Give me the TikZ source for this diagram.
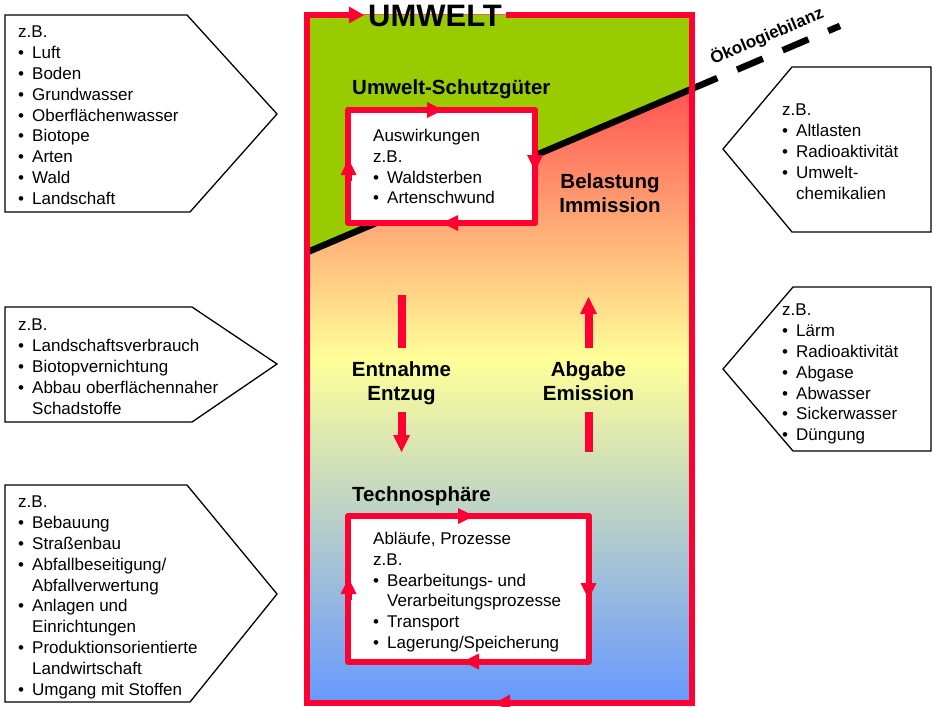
\documentclass[tikz,border=0pt]{standalone}
\usepackage{fontspec}
\setmainfont{Liberation Sans}
\usetikzlibrary{arrows.meta}

\definecolor{umred}{HTML}{FF0033}
\definecolor{umgreen}{HTML}{99CC00}
\definecolor{umtop}{HTML}{FF5050}
\definecolor{ummid}{HTML}{FFFF99}
\definecolor{umbot}{HTML}{6699FF}

\pgfdeclareverticalshading{umshade}{100bp}{color(0bp)=(umbot); color(25bp)=(umbot); color(50bp)=(ummid); color(70bp)=(umtop); color(100bp)=(umtop)}

\newcommand{\bul}{\makebox[14pt][l]{\textbullet}}
\newcommand{\ein}{\hspace*{14pt}}

\tikzset{
  tagbox/.style={draw=black, line width=1.3pt, fill=white},
  taglist/.style={anchor=north west, inner sep=0pt, align=left, font=\fontsize{17}{20.8}\selectfont},
  headline/.style={inner sep=0pt, font=\fontsize{20.5}{24}\selectfont\bfseries},
  ringline/.style={draw=umred, line width=6pt, line join=round},
  ringtip/.style={draw=umred, line width=6pt, -{Triangle[length=16pt,width=16pt,line width=0pt]}},
  frametip/.style={draw=umred, line width=6pt, -{Triangle[length=15pt,width=17pt,line width=0pt]}},
  flowbar/.style={draw=umred, line width=8pt},
  flowtip/.style={-{Triangle[length=17pt,width=17pt,line width=0pt]}},
  ecoline/.style={draw=black, line width=6.5pt}
}

\begin{document}
\begin{tikzpicture}[x=1pt,y=-1pt]
\useasboundingbox (0,0) rectangle (933,706);

\coordinate (fTL) at (306.5,15);
\coordinate (fTR) at (691.5,15);
\coordinate (fBR) at (691.5,703);
\coordinate (fBL) at (306.5,703);
\coordinate (eco1) at (306.5,252.5);
\coordinate (eco2) at (691.5,89);
\coordinate (eco3) at (840,25.9);

\fill[shading=umshade] (fTL) rectangle (fBR);
\fill[umgreen] (fTL) -- (fTR) -- (eco2) -- (eco1) -- cycle;
\draw[ecoline] (eco1) -- (eco2);
\draw[ecoline, dash pattern=on 28pt off 21.5pt] (eco2) -- (eco3);
\node[inner sep=0pt, anchor=base, rotate=23, font=\fontsize{17}{20}\selectfont\bfseries] (oekobil) at (769,41) {Ökologiebilanz};

\node[inner xsep=4pt, inner ysep=0pt, anchor=base, font=\fontsize{31}{36}\selectfont\bfseries] (umwelt) at (435,27) {UMWELT};
\draw[frametip] (umwelt.east |- fTR) -- (fTR) -- (fBR) -- (fBL) -- (fTL) -- (umwelt.west |- fTL);
\coordinate (ftip) at (495,703);
\draw[frametip] ([xshift=22pt]ftip) -- (ftip);

\node[headline, anchor=base west] (schutz) at (352,94.3) {Umwelt-Schutzgüter};
\node[fill=white, minimum width=186.5pt, minimum height=113pt, inner sep=0pt] (auswbox) at (441.75,166.5) {};
\draw[ringline] (auswbox.north west) -- (auswbox.north east) -- (auswbox.south east) -- (auswbox.south west) -- cycle;
\coordinate (atip1) at (443,110);
\coordinate (atip2) at (535,171);
\coordinate (atip3) at (442,223);
\coordinate (atip4) at (348.5,159);
\draw[ringtip] ([xshift=-22pt]atip1) -- (atip1);
\draw[ringtip] ([yshift=22pt]atip2) -- (atip2);
\draw[ringtip] ([xshift=22pt]atip3) -- (atip3);
\draw[ringtip] ([yshift=-22pt]atip4) -- (atip4);
\node[taglist] (auswtext) at (373,129) {Auswirkungen\\z.B.\\\bul Waldsterben\\\bul Artenschwund};

\node[headline, anchor=north, align=center] (belast) at (610,173.3) {Belastung\\Immission};

\node[headline, anchor=north, align=center] (entnahme) at (401.5,361.3) {Entnahme\\Entzug};
\node[headline, anchor=north, align=center] (abgabe) at (588.5,361.3) {Abgabe\\Emission};
\coordinate (ent1) at (401.5,295);
\coordinate (ent3) at (401.5,452);
\coordinate (abg1) at (588.5,297);
\coordinate (abg3) at (588.5,452);
\draw[flowbar, shorten >=13.3pt] (ent1) -- (entnahme.north);
\draw[flowbar, flowtip, shorten <=7.4pt] (entnahme.south) -- (ent3);
\draw[flowbar, flowtip, shorten <=13.3pt] (abgabe.north) -- (abg1);
\draw[flowbar, shorten >=11.7pt] (abg3) -- (abgabe.south);

\node[headline, anchor=base west] (techno) at (352,501.3) {Technosphäre};
\node[fill=white, minimum width=240pt, minimum height=145.5pt, inner sep=0pt] (ablaufbox) at (468.5,588.75) {};
\draw[ringline] (ablaufbox.north west) -- (ablaufbox.north east) -- (ablaufbox.south east) -- (ablaufbox.south west) -- cycle;
\coordinate (btip1) at (474,516);
\coordinate (btip2) at (588.5,599);
\coordinate (btip3) at (463,661.5);
\coordinate (btip4) at (348.5,578);
\draw[ringtip] ([xshift=-22pt]btip1) -- (btip1);
\draw[ringtip] ([yshift=22pt]btip2) -- (btip2);
\draw[ringtip] ([xshift=22pt]btip3) -- (btip3);
\draw[ringtip] ([yshift=-22pt]btip4) -- (btip4);
\node[taglist] (ablauftext) at (373,532) {Abläufe, Prozesse\\z.B.\\\bul Bearbeitungs- und\\\ein Verarbeitungsprozesse\\\bul Transport\\\bul Lagerung/Speicherung};

\draw[tagbox] (5,15) -- (187,15) -- (277,114) -- (190,212) -- (5,212) -- cycle;
\node[taglist] (taggut) at (18,26) {z.B.\\\bul Luft\\\bul Boden\\\bul Grundwasser\\\bul Oberflächenwasser\\\bul Biotope\\\bul Arten\\\bul Wald\\\bul Landschaft};

\draw[tagbox] (5,307) -- (192,307) -- (277,364) -- (192,422) -- (5,422) -- cycle;
\node[taglist] (tagentz) at (18,319) {z.B.\\\bul Landschaftsverbrauch\\\bul Biotopvernichtung\\\bul Abbau oberflächennaher\\\ein Schadstoffe};

\draw[tagbox] (5,485) -- (187,485) -- (277,594) -- (190,702) -- (5,702) -- cycle;
\node[taglist] (tagtech) at (18,496) {z.B.\\\bul Bebauung\\\bul Straßenbau\\\bul Abfallbeseitigung/\\\ein Abfallverwertung\\\bul Anlagen und\\\ein Einrichtungen\\\bul Produktionsorientierte\\\ein Landwirtschaft\\\bul Umgang mit Stoffen};

\draw[tagbox] (931,67) -- (792,67) -- (723,149) -- (792,232) -- (931,232) -- cycle;
\node[taglist] (tagbel) at (782,104) {z.B.\\\bul Altlasten\\\bul Radioaktivität\\\bul Umwelt-\\\ein chemikalien};

\draw[tagbox] (931,287) -- (793,287) -- (723,369) -- (793,451) -- (931,451) -- cycle;
\node[taglist] (tagabg) at (782,304) {z.B.\\\bul Lärm\\\bul Radioaktivität\\\bul Abgase\\\bul Abwasser\\\bul Sickerwasser\\\bul Düngung};
\end{tikzpicture}
\end{document}
